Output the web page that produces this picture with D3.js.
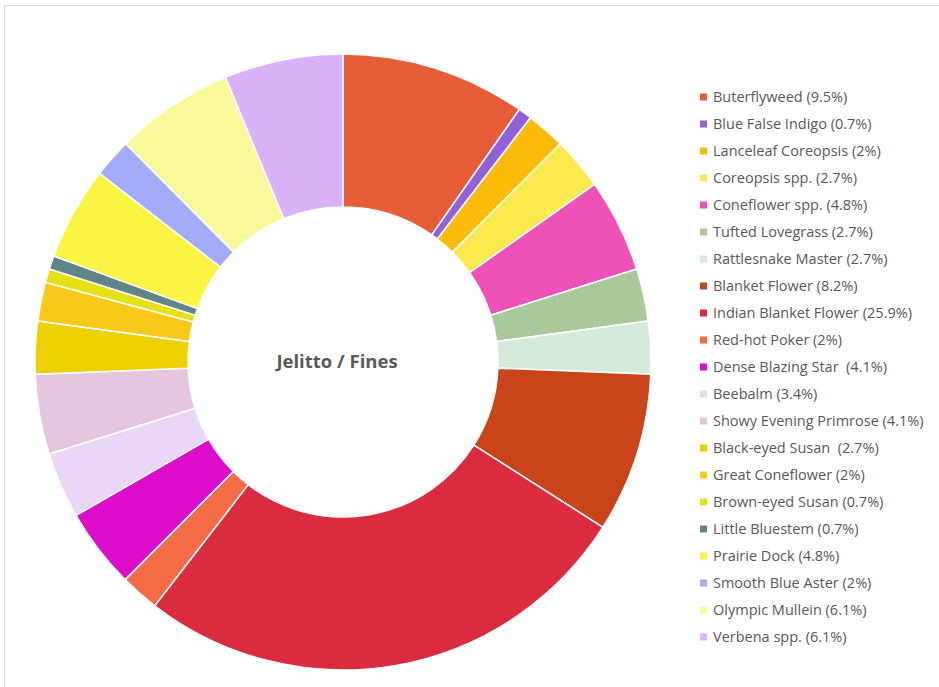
<!DOCTYPE html>
<html>
<head>
<meta charset="utf-8">
<script src="https://cdn.jsdelivr.net/npm/d3@7"></script>
<style>
  html, body { margin: 0; padding: 0; background: #fff; }
  svg { display: block; }
  text { font-family: "Open Sans", "Liberation Sans", sans-serif; fill: #595959; }
</style>
</head>
<body>
<svg id="chart" width="939" height="687"></svg>
<script>
const title = "Jelitto / Fines";

const species = [
  "Buterflyweed", "Blue False Indigo", "Lanceleaf Coreopsis", "Coreopsis spp.",
  "Coneflower spp.", "Tufted Lovegrass", "Rattlesnake Master", "Blanket Flower",
  "Indian Blanket Flower", "Red-hot Poker", "Dense Blazing Star ", "Beebalm",
  "Showy Evening Primrose", "Black-eyed Susan ", "Great Coneflower", "Brown-eyed Susan",
  "Little Bluestem", "Prairie Dock", "Smooth Blue Aster", "Olympic Mullein", "Verbena spp."
];

const shares = [9.5, 0.7, 2, 2.7, 4.8, 2.7, 2.7, 8.2, 25.9, 2, 4.1, 3.4, 4.1, 2.7, 2, 0.7, 0.7, 4.8, 2, 6.1, 6.1];

const colors = [
  "#e65d37", "#9460d8", "#fbbb08", "#fbe94e", "#ef52b6", "#abc89b", "#d4ebdc", "#c94419",
  "#da2c3e", "#f46b45", "#dc0cca", "#ead6f6", "#e5c6de", "#ecd000", "#f9c91a", "#e5e114",
  "#5f8586", "#fbf442", "#a3acf8", "#f9f99c", "#d9b2f8"
];

const svg = d3.select("#chart");

// frame around the chart area
svg.append("rect")
  .attr("x", 4.5).attr("y", 5.5)
  .attr("width", 960).attr("height", 720)
  .attr("fill", "none").attr("stroke", "#d9d9d9").attr("stroke-width", 1);

const cx = 343, cy = 362, outerR = 308, innerR = 155;

const pie = d3.pie().sort(null).value(d => d.value);
const arc = d3.arc().innerRadius(innerR).outerRadius(outerR);

const rows = species.map((name, i) => ({ name, value: shares[i], color: colors[i] }));

const g = svg.append("g").attr("transform", `translate(${cx},${cy})`);
g.selectAll("path")
  .data(pie(rows))
  .join("path")
  .attr("d", arc)
  .attr("fill", d => d.data.color)
  .attr("stroke", "#fff")
  .attr("stroke-width", 1.5)
  .attr("stroke-linejoin", "round");

g.append("text")
  .attr("x", -6)
  .attr("text-anchor", "middle")
  .attr("dy", "0.35em")
  .attr("font-size", 18.5)
  .attr("font-weight", "bold")
  .text(title);

// legend
const legendY = d3.scalePoint().domain(d3.range(rows.length)).range([97, 637]);
const legend = svg.append("g");
const item = legend.selectAll("g")
  .data(rows)
  .join("g")
  .attr("transform", (d, i) => `translate(700,${legendY(i)})`);
item.append("rect")
  .attr("x", 0).attr("y", -3.5)
  .attr("width", 7).attr("height", 7)
  .attr("fill", d => d.color);
item.append("text")
  .attr("x", 13)
  .attr("dy", "0.35em")
  .attr("font-size", 14.5)
  .style("white-space", "pre")
  .text(d => `${d.name} (${d.value}%)`);
</script>
</body>
</html>
